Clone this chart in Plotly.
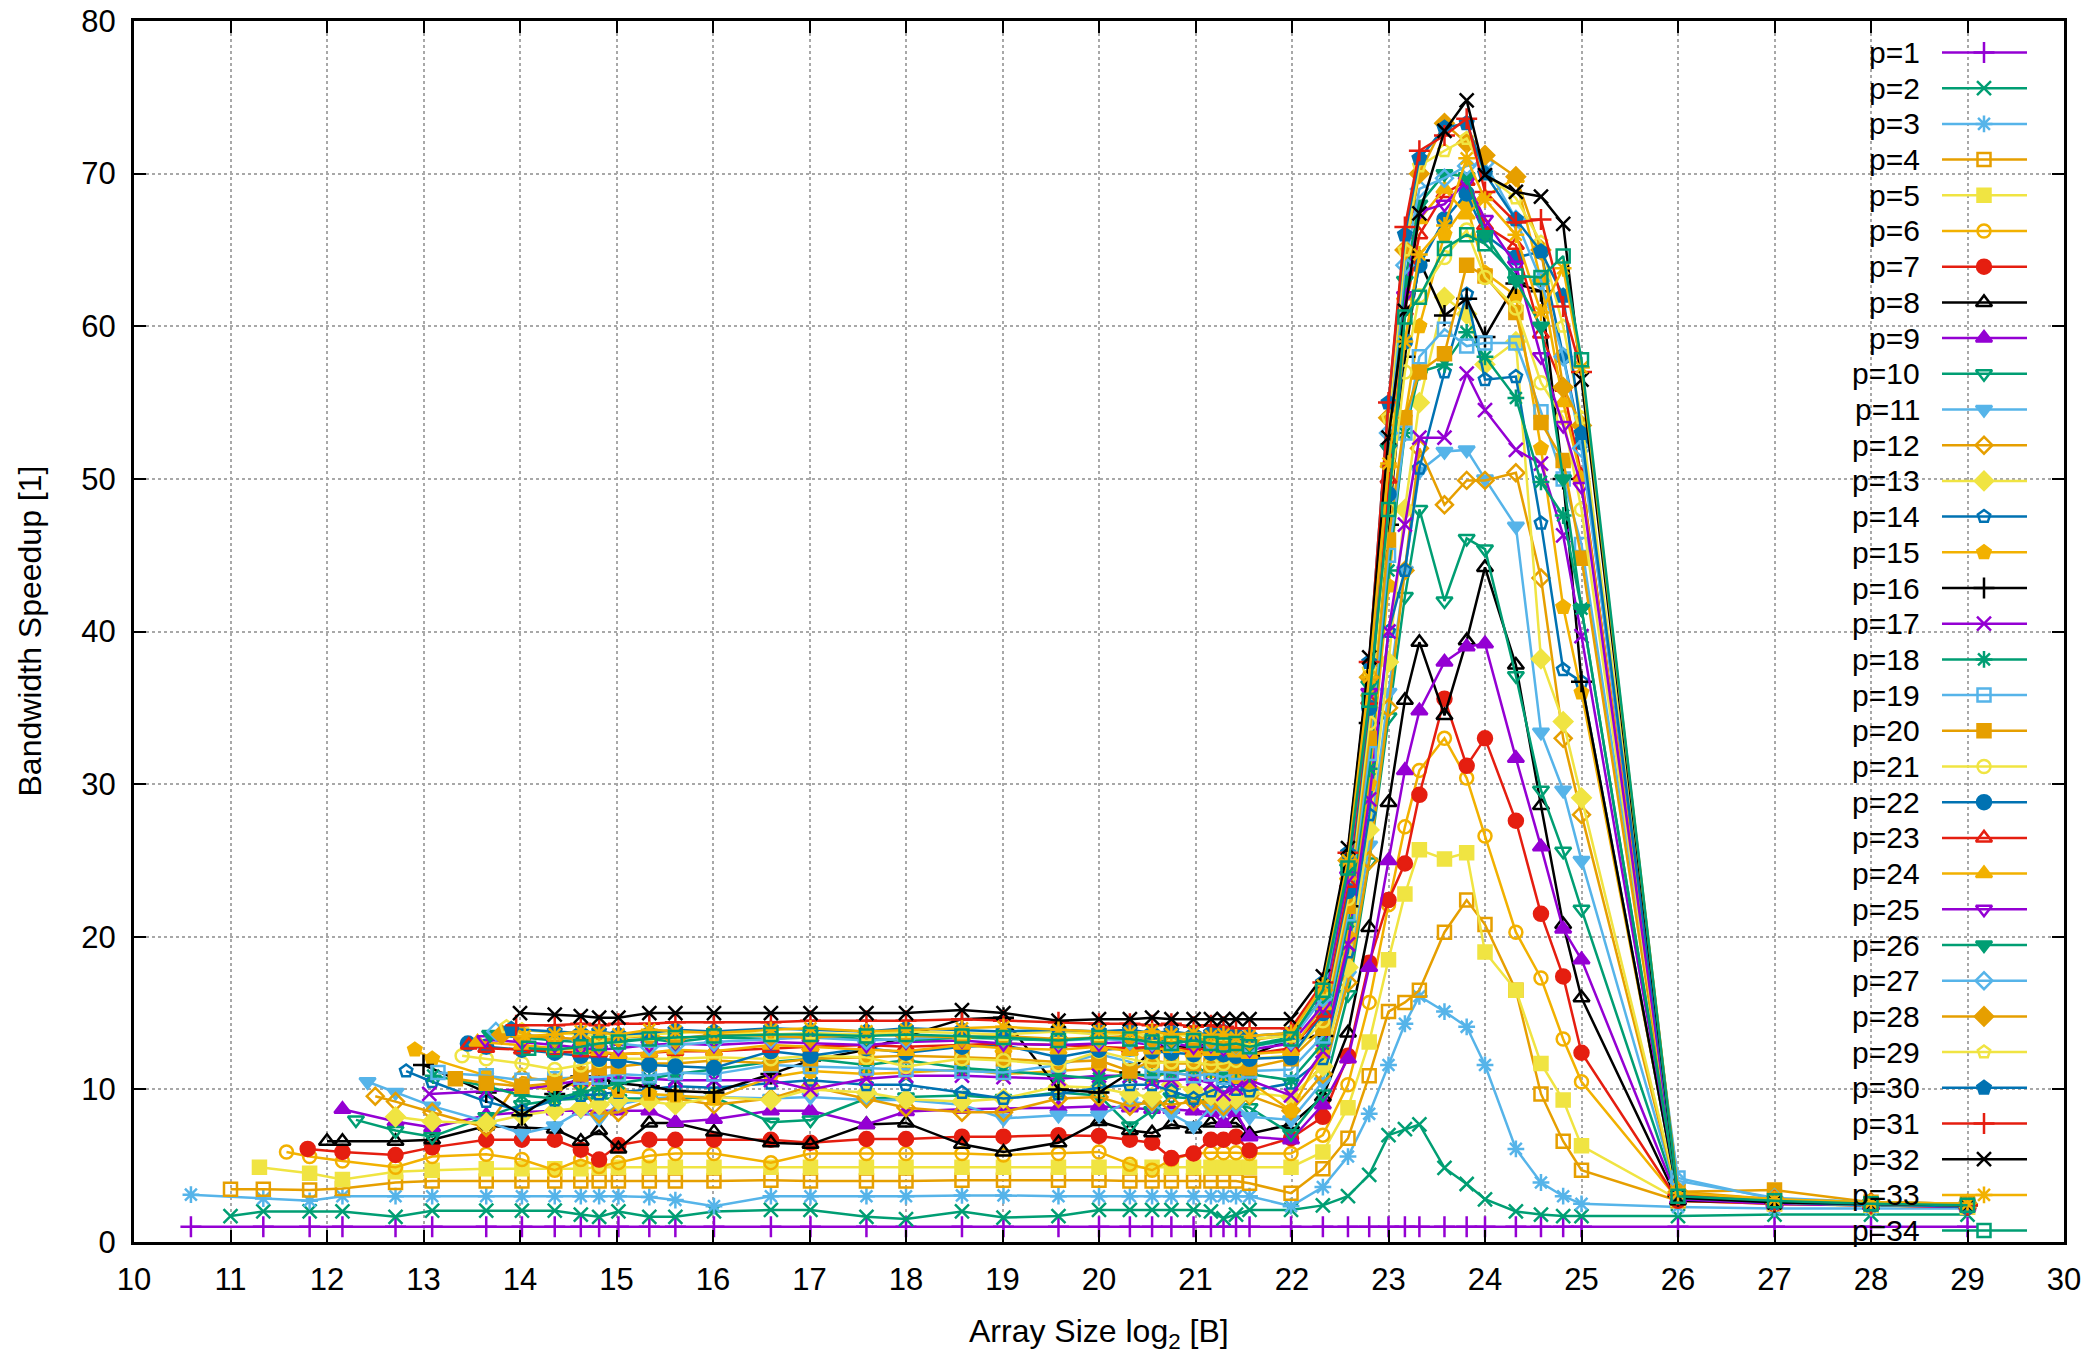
import plotly.graph_objects as go

# ---------------- data ----------------
GRID_X = [10.59, 11.34, 11.82, 12.16, 12.71, 13.09, 13.65, 14.02, 14.36, 14.63, 14.82, 15.02,
          15.34, 15.61, 16.01, 16.60, 17.01, 17.59, 18.00, 18.58, 19.01, 19.58, 20.00, 20.32,
          20.55, 20.75, 20.98, 21.16, 21.29, 21.42, 21.56, 21.99]
PEAK_X = [22.32, 22.58, 22.80, 23.00, 23.17, 23.32, 23.58, 23.81, 24.00, 24.32, 24.58, 24.81, 25.00,
          26, 27, 28, 29]

labels = ["p=%d" % k for k in range(1, 35)]

start_x = [10.59, 11.0, 10.59, 11.0, 11.3, 11.58, 11.8, 12.0, 12.16, 12.3, 12.42, 12.5, 12.71, 12.82,
           12.91, 13.0, 13.06, 13.1, 13.15, 13.33, 13.4, 13.46, 13.47, 13.56, 13.64, 13.69, 13.75,
           13.81, 13.86, 13.91, 13.96, 14.0, 14.05, 14.09]
start_y = [1.0, 1.7, 3.1, 3.45, 4.9, 5.9, 6.1, 6.6, 8.7, 8.0, 10.5, 9.55, 8.2, 11.2, 12.6, 11.6, 9.7,
           10.9, 11.1, 10.7, 12.2, 13.0, 12.9, 13.1, 13.25, 13.6, 13.8, 13.6, 14.1, 13.95, 14.2, 15.0,
           13.5, 12.7]

early_vals = [
    [1.0, 1.0, 1.0, 1.0, 1.0, 1.0],
    [2.0, 2.0, 2.0, 1.65, 2.05, 2.05],
    [2.85, 2.7, 3.0, 3.0, 3.0, 3.0],
    [3.45, 3.4, 3.5, 3.9, 4.0, 4.0],
    [4.5, 4.1, 4.6, 4.7, 4.8],
    [5.6, 5.3, 4.9, 5.6, 5.75],
    [5.9, 5.7, 6.2, 6.7],
    [6.6, 6.6, 6.7, 7.6],
    [7.9, 7.5, 8.3],
    [7.3, 6.9, 8.2],
    [9.8, 8.9, 7.9],
    [9.2, 8.5, 7.5],
    [7.9, 7.8],
    [10.5, 9.2],
    [12.0, 10.9],
    [9.8], [9.9], [10.2], [10.9], [10.4], [12.0], [12.8], [12.7],
    [], [], [], [], [], [], [], [], [], [], [],
]

plateau_vals = [
    [1.0, 1.0, 1.0, 1.0, 1.0, 1.0, 1.0, 1.0, 1.0, 1.0, 1.0, 1.0, 1.0, 1.0, 1.0, 1.0, 1.0, 1.0, 1.0, 1.0, 1.0, 1.0, 1.0, 1.0, 1.0],
    [2.05, 2.05, 1.8, 1.65, 2.0, 1.65, 1.65, 2.0, 2.1, 2.1, 1.65, 1.5, 2.0, 1.6, 1.7, 2.1, 2.1, 2.1, 2.1, 2.1, 2.0, 1.55, 1.8, 2.1, 2.1],
    [3.0, 3.0, 3.0, 3.0, 3.0, 2.95, 2.75, 2.35, 3.0, 3.0, 3.0, 3.0, 3.05, 3.05, 3.0, 3.0, 3.0, 3.0, 3.0, 3.0, 3.0, 3.0, 3.0, 3.0, 2.35],
    [4.0, 4.0, 4.0, 4.0, 4.0, 4.0, 4.0, 4.0, 4.05, 4.0, 4.0, 4.0, 4.05, 4.05, 4.05, 4.05, 4.0, 4.0, 4.0, 4.0, 4.0, 4.0, 4.0, 3.85, 3.2],
    [4.8, 4.8, 4.8, 4.9, 4.9, 4.9, 4.9, 4.9, 4.9, 4.9, 4.9, 4.9, 4.9, 4.9, 4.9, 4.9, 4.9, 4.9, 4.9, 4.9, 4.9, 4.9, 4.9, 4.9, 4.9],
    [5.4, 4.7, 5.4, 4.95, 5.2, 5.65, 5.8, 5.8, 5.2, 5.8, 5.8, 5.8, 5.8, 5.7, 5.8, 5.9, 5.1, 4.7, 5.4, 5.8, 5.85, 5.85, 5.85, 5.8, 5.8],
    [6.7, 6.7, 6.05, 5.4, 6.35, 6.7, 6.7, 6.7, 6.7, 6.5, 6.75, 6.75, 6.9, 6.9, 7.0, 6.95, 6.7, 6.5, 5.5, 5.8, 6.7, 6.7, 6.9, 6.0, 6.8],
    [7.5, 7.4, 6.6, 7.3, 6.1, 7.8, 7.8, 7.2, 6.5, 6.4, 7.7, 7.8, 6.4, 5.9, 6.5, 7.9, 7.3, 7.15, 7.7, 7.4, 7.8, 7.8, 7.8, 7.1, 7.7],
    [8.5, 8.6, 8.6, 8.6, 8.6, 8.6, 7.85, 8.05, 8.6, 8.6, 7.7, 8.55, 8.7, 8.75, 8.8, 8.9, 8.8, 8.7, 8.7, 8.6, 8.5, 7.8, 8.5, 6.9, 6.7],
    [9.0, 9.3, 9.4, 9.4, 9.4, 9.4, 9.4, 9.5, 7.85, 8.0, 9.4, 9.5, 9.6, 9.4, 9.8, 9.6, 7.6, 8.6, 9.5, 9.4, 9.1, 9.3, 9.0, 8.8, 7.1],
    [7.1, 7.6, 8.6, 8.1, 9.0, 9.4, 9.5, 9.5, 9.4, 9.5, 9.3, 9.3, 9.0, 8.1, 8.3, 8.3, 9.2, 9.0, 8.4, 7.6, 8.8, 8.6, 8.9, 8.2, 8.0],
    [10.8, 10.5, 10.3, 8.4, 8.5, 9.3, 9.4, 9.0, 9.4, 10.2, 9.4, 8.8, 8.5, 8.5, 9.4, 9.5, 8.9, 9.2, 9.0, 9.2, 9.1, 8.9, 9.3, 9.6, 8.6],
    [8.3, 8.6, 8.8, 9.0, 9.3, 9.2, 9.0, 9.5, 9.3, 10.0, 9.8, 9.35, 9.2, 9.4, 10.2, 10.1, 9.7, 9.5, 10.3, 10.0, 9.6, 9.3, 9.4, 9.8, 9.5],
    [8.6, 9.3, 9.6, 9.7, 9.8, 10.0, 10.2, 10.1, 10.4, 10.6, 10.3, 10.3, 9.8, 9.4, 9.7, 10.1, 10.3, 10.3, 9.9, 9.4, 9.9, 10.2, 10.0, 9.9, 10.4],
    [10.2, 10.0, 10.5, 10.3, 9.9, 9.7, 9.6, 9.4, 10.8, 11.2, 11.0, 11.1, 11.3, 11.0, 11.2, 11.4, 11.0, 10.8, 11.1, 10.9, 11.2, 11.0, 10.8, 10.5, 8.6],
    [8.3, 9.7, 10.85, 10.7, 10.4, 10.2, 9.9, 9.8, 11.0, 11.9, 12.6, 13.5, 14.6, 14.7, 10.0, 9.8, 11.1, 12.6, 12.9, 12.7, 12.9, 12.8, 12.5, 12.2, 13.3],
    [10.0, 10.3, 10.6, 10.7, 10.8, 10.7, 10.6, 10.6, 10.6, 10.0, 10.7, 10.9, 10.9, 10.8, 10.7, 10.9, 10.9, 10.5, 10.6, 10.7, 10.4, 9.7, 10.1, 10.6, 9.6],
    [9.6, 9.4, 9.8, 10.1, 10.4, 10.7, 11.0, 11.3, 11.8, 12.0, 11.6, 11.9, 11.4, 11.2, 10.9, 10.7, 11.0, 10.9, 11.1, 11.3, 11.2, 11.0, 11.3, 11.0, 10.6],
    [10.6, 10.7, 10.8, 10.8, 11.0, 10.9, 11.1, 11.0, 11.6, 11.5, 11.4, 11.3, 11.2, 11.1, 11.6, 12.3, 11.8, 11.2, 11.1, 10.9, 11.0, 10.8, 11.1, 11.2, 11.3],
    [10.2, 10.4, 11.0, 11.4, 11.5, 11.7, 11.7, 11.9, 11.7, 12.0, 12.1, 12.2, 12.1, 12.0, 11.8, 11.9, 11.2, 11.9, 11.7, 11.7, 11.6, 11.7, 11.5, 11.4, 12.0],
    [11.7, 11.3, 11.6, 11.9, 12.0, 12.0, 12.0, 12.1, 12.0, 12.2, 12.1, 11.5, 12.0, 11.9, 11.6, 12.5, 12.0, 11.7, 11.8, 11.8, 11.6, 11.7, 11.9, 12.0, 12.2],
    [12.6, 12.4, 12.2, 12.0, 11.9, 11.6, 11.5, 11.4, 12.5, 12.2, 12.7, 12.4, 12.8, 12.9, 12.1, 12.6, 12.7, 12.5, 12.4, 12.3, 12.4, 12.3, 12.2, 12.0, 12.1],
    [12.6, 12.5, 12.4, 12.4, 12.3, 12.4, 12.5, 12.5, 12.7, 12.8, 12.9, 12.8, 12.9, 13.0, 12.9, 12.8, 12.7, 12.8, 12.7, 12.6, 12.7, 12.6, 12.5, 12.3, 12.7],
    [12.9, 12.7, 12.6, 12.5, 12.3, 12.4, 12.6, 12.5, 12.9, 12.8, 12.6, 12.5, 12.9, 12.7, 12.6, 12.8, 12.5, 12.6, 12.7, 12.4, 12.5, 12.6, 12.4, 12.3, 12.5],
    [13.1, 12.9, 12.7, 12.6, 12.7, 12.9, 13.0, 12.9, 13.1, 13.0, 12.9, 13.1, 13.2, 13.0, 12.9, 13.0, 13.1, 12.9, 13.0, 12.8, 12.9, 12.7, 12.9, 12.6, 13.0],
    [13.4, 13.2, 13.1, 13.0, 13.2, 13.3, 13.1, 13.4, 13.3, 13.5, 13.3, 13.2, 13.4, 13.3, 13.2, 13.4, 13.3, 13.2, 13.1, 13.3, 13.2, 13.1, 13.0, 12.9, 13.4],
    [13.6, 13.4, 13.2, 13.1, 13.0, 12.8, 12.9, 13.1, 13.3, 13.4, 13.2, 13.3, 13.5, 13.4, 13.2, 13.3, 13.2, 13.1, 13.0, 13.2, 13.1, 13.0, 12.9, 12.8, 13.2],
    [13.5, 13.4, 13.3, 13.2, 13.4, 13.5, 13.3, 13.6, 13.5, 13.4, 13.6, 13.5, 13.4, 13.5, 13.3, 13.4, 13.5, 13.3, 13.4, 13.2, 13.3, 13.1, 13.0, 13.2, 13.6],
    [13.9, 13.7, 13.6, 13.5, 13.4, 13.6, 13.7, 13.8, 13.6, 13.7, 13.6, 13.8, 13.7, 13.6, 13.8, 13.6, 13.7, 13.5, 13.6, 13.5, 13.4, 13.6, 13.5, 13.3, 13.5],
    [13.9, 13.8, 13.7, 13.8, 13.6, 13.7, 13.9, 13.8, 14.0, 13.9, 13.8, 14.0, 13.9, 13.8, 13.9, 13.8, 13.9, 13.7, 13.8, 13.6, 13.7, 13.8, 13.6, 13.5, 13.7],
    [14.2, 14.2, 14.3, 14.2, 14.3, 14.3, 14.4, 14.4, 14.4, 14.5, 14.5, 14.5, 14.6, 14.5, 14.4, 14.3, 14.3, 14.2, 14.3, 14.1, 14.2, 14.1, 14.0, 14.0, 14.0],
    [15.0, 14.9, 14.8, 14.7, 14.7, 15.0, 15.0, 15.0, 15.0, 15.0, 15.0, 15.0, 15.2, 15.0, 14.5, 14.6, 14.6, 14.7, 14.6, 14.6, 14.6, 14.6, 14.6, 14.6, 14.6],
    [13.5, 13.6, 13.8, 13.7, 13.6, 13.9, 13.8, 13.7, 13.9, 14.0, 13.8, 13.9, 14.0, 14.1, 13.9, 13.8, 13.7, 13.8, 13.6, 13.7, 13.5, 13.6, 13.4, 13.5, 13.7],
    [12.7, 12.6, 12.8, 13.0, 13.1, 13.3, 13.4, 13.5, 13.6, 13.6, 13.5, 13.6, 13.5, 13.4, 13.2, 13.4, 13.3, 13.1, 13.0, 13.2, 13.0, 12.9, 13.0, 12.8, 13.3],
]

peak_vals = [
    [1.0, 1.0, 1.0, 1.0, 1.0, 1.0, 1.0, 1.0, 1.0, 1.0, 1.0, 1.0, 1.0],
    [2.4, 3.0, 4.4, 7.0, 7.4, 7.7, 4.85, 3.8, 2.8, 2.0, 1.8, 1.7, 1.7],
    [3.6, 5.6, 8.4, 11.6, 14.3, 16.1, 15.1, 14.1, 11.6, 6.1, 3.9, 3.0, 2.5],
    [4.8, 6.8, 10.9, 15.1, 15.7, 16.5, 20.3, 22.4, 20.8, 16.5, 9.7, 6.6, 4.7],
    [5.9, 8.8, 13.1, 18.5, 22.8, 25.7, 25.1, 25.5, 19.0, 16.5, 11.7, 9.3, 6.3],
    [7.0, 10.3, 15.7, 22.1, 27.2, 30.9, 33.0, 30.4, 26.6, 20.3, 17.3, 13.3, 10.5],
    [8.2, 12.2, 18.3, 22.4, 24.8, 29.3, 35.6, 31.2, 33.0, 27.6, 21.5, 17.4, 12.4],
    [9.5, 13.7, 20.6, 28.8, 35.5, 39.3, 34.5, 39.4, 44.2, 37.8, 28.6, 20.8, 16.0],
    [9.0, 12.0, 18.0, 25.0, 30.9, 34.8, 38.0, 39.0, 39.2, 31.7, 25.9, 20.5, 18.5],
    [9.7, 16.2, 24.9, 34.4, 42.3, 48.0, 42.0, 46.1, 45.4, 37.1, 29.6, 25.6, 21.8],
    [10.5, 17.5, 26.0, 36.0, 44.0, 50.5, 51.8, 51.9, 50.0, 46.9, 33.4, 29.6, 25.0],
    [11.0, 17.0, 25.0, 35.0, 44.0, 52.0, 48.3, 49.9, 49.9, 50.4, 43.5, 33.0, 28.0],
    [11.5, 18.0, 27.0, 38.0, 48.0, 55.0, 61.9, 60.8, 57.5, 59.0, 38.2, 34.1, 29.1],
    [12.0, 19.0, 28.0, 40.0, 44.0, 50.7, 57.0, 62.1, 56.5, 56.7, 47.1, 37.5, 36.7],
    [12.5, 20.0, 30.0, 43.0, 54.0, 60.0, 66.0, 68.0, 63.5, 62.0, 52.0, 41.6, 36.0],
    [13.5, 22.0, 34.0, 47.0, 58.0, 64.3, 60.7, 61.8, 59.3, 62.8, 62.3, 50.0, 36.7],
    [12.5, 19.5, 29.0, 40.0, 47.0, 52.7, 52.7, 56.9, 54.5, 51.9, 51.0, 46.3, 39.7],
    [13.0, 21.0, 31.0, 44.0, 53.0, 57.0, 57.5, 59.6, 58.0, 55.3, 49.8, 47.6, 41.5],
    [13.5, 21.5, 32.0, 45.0, 53.0, 58.0, 59.8, 58.7, 58.9, 58.9, 54.4, 50.0, 45.7],
    [14.0, 22.0, 33.0, 46.0, 54.0, 57.0, 58.2, 64.0, 63.3, 60.9, 53.7, 51.2, 44.8],
    [14.5, 22.5, 34.0, 48.0, 57.0, 62.0, 64.5, 66.3, 63.2, 61.2, 56.3, 54.0, 48.0],
    [15.0, 23.0, 35.0, 49.0, 59.0, 64.0, 67.0, 68.7, 66.0, 64.5, 64.9, 58.0, 52.4],
    [15.0, 23.5, 35.5, 50.0, 61.0, 66.0, 68.7, 69.5, 66.6, 65.3, 59.5, 56.0, 50.2],
    [15.5, 24.0, 36.0, 51.0, 62.0, 67.0, 69.0, 67.3, 68.5, 69.7, 63.0, 55.0, 50.0],
    [15.5, 24.0, 36.0, 52.0, 62.0, 67.5, 68.0, 69.5, 67.0, 64.0, 58.0, 53.5, 49.5],
    [16.0, 24.5, 36.5, 52.0, 63.0, 68.0, 70.0, 69.8, 66.0, 63.0, 60.0, 50.0, 41.5],
    [16.0, 25.0, 37.0, 53.0, 64.0, 69.0, 69.7, 70.5, 70.7, 67.0, 63.0, 58.0, 52.0],
    [16.5, 25.0, 37.0, 54.0, 65.0, 70.0, 73.3, 72.0, 71.2, 69.8, 65.0, 56.0, 53.5],
    [16.5, 25.5, 37.5, 54.0, 65.0, 70.5, 71.5, 72.3, 70.0, 68.4, 65.5, 60.0, 54.0],
    [17.0, 25.5, 38.0, 55.0, 66.0, 71.0, 73.0, 73.3, 70.0, 67.0, 64.9, 62.0, 53.0],
    [17.0, 25.5, 38.0, 55.0, 66.5, 71.5, 72.5, 73.6, 68.8, 66.8, 67.0, 61.3, 57.0],
    [17.4, 25.8, 38.3, 52.7, 61.0, 67.4, 72.8, 74.8, 69.9, 68.8, 68.5, 66.7, 56.5],
    [16.8, 25.0, 37.0, 51.0, 59.0, 64.7, 66.6, 71.0, 68.3, 66.0, 60.9, 63.8, 57.3],
    [16.5, 24.5, 35.5, 48.0, 60.6, 61.9, 65.1, 66.0, 65.4, 63.3, 63.2, 64.6, 57.8],
]

tail_vals = [
    [1.0, 1.0, 1.0, 1.0], [1.7, 1.8, 1.8, 1.8], [2.3, 2.2, 2.2, 2.2], [2.7, 2.5, 2.4, 2.3],
    [2.8, 2.5, 2.4, 2.3], [2.8, 2.6, 2.4, 2.4], [2.7, 2.5, 2.4, 2.3], [2.7, 2.6, 2.4, 2.4],
    [2.8, 2.5, 2.4, 2.3], [2.9, 2.6, 2.4, 2.4], [3.0, 2.6, 2.5, 2.4], [3.0, 2.7, 2.5, 2.4],
    [3.1, 2.6, 2.4, 2.4], [3.0, 2.6, 2.5, 2.4], [3.2, 2.7, 2.5, 2.4], [3.0, 2.6, 2.5, 2.4],
    [3.1, 2.6, 2.5, 2.4], [3.0, 2.7, 2.5, 2.4], [4.2, 2.8, 2.5, 2.4], [3.3, 3.4, 2.6, 2.5],
    [3.1, 2.7, 2.5, 2.4], [3.0, 2.6, 2.5, 2.3], [3.1, 2.7, 2.5, 2.4], [3.2, 2.8, 2.6, 2.5],
    [3.0, 2.6, 2.5, 2.4], [3.1, 2.7, 2.5, 2.4], [4.0, 2.9, 2.6, 2.5], [3.3, 2.8, 2.6, 2.5],
    [3.1, 2.7, 2.5, 2.4], [3.0, 2.6, 2.4, 2.4], [3.1, 2.7, 2.5, 2.4], [2.9, 2.6, 2.5, 2.4],
    [3.2, 2.8, 2.6, 2.5], [3.0, 2.7, 2.5, 2.4],
]

x_ticks = list(range(10, 31))
y_ticks = list(range(0, 81, 10))

# ---------------- styles ----------------
PURPLE, GREEN, LBLUE, ORANGE = "#9400d3", "#009e73", "#56b4e9", "#e69f00"
YELLOW, BLUE, RED, BLACK, GOLD = "#f0e442", "#0072b2", "#e51e10", "#000000", "#f2b100"
colors = [PURPLE, GREEN, LBLUE, ORANGE, YELLOW, GOLD, RED, BLACK,
          PURPLE, GREEN, LBLUE, ORANGE, YELLOW, BLUE, GOLD, BLACK,
          PURPLE, GREEN, LBLUE, ORANGE, YELLOW, BLUE, RED, GOLD,
          PURPLE, GREEN, LBLUE, ORANGE, YELLOW, BLUE, RED, BLACK,
          GOLD, GREEN]
symbols = ["cross-thin-open", "x-thin-open", "asterisk-open", "square-open", "square",
           "circle-open", "circle", "triangle-up-open", "triangle-up", "triangle-down-open",
           "triangle-down", "diamond-open", "diamond", "pentagon-open", "pentagon"]
sizes = [15, 14, 14, 13, 13, 13, 14, 14, 14, 14, 14, 13, 14, 13, 14]

FONT = "Liberation Sans, Arial, sans-serif"
# page body has an 8px margin: figure is shrunk so the plot lands where the reference has it
OFF = 8
W, H = 2090 - OFF, 1354 - OFF
L, T = 134 - OFF, 21 - OFF
PW, PH = 1930, 1221
R, B = W - L - PW, H - T - PH

def px2paper_x(px):
    return (px - OFF - L) / PW
def py2paper_y(py):
    return (T + PH - (py - OFF)) / PH

fig = go.Figure()

for i in range(34):
    sx = start_x[i]
    xs_pl = [g for g in GRID_X if g > sx + 0.12]
    ys_pl = (early_vals[i] + plateau_vals[i])[-len(xs_pl):]
    xs = [sx] + xs_pl + PEAK_X
    ys = [start_y[i]] + ys_pl + peak_vals[i] + tail_vals[i]
    sym = symbols[i % 15]
    fig.add_trace(go.Scatter(
        x=xs, y=ys, mode="lines+markers", name=labels[i], showlegend=False,
        line=dict(color=colors[i], width=2.5),
        marker=dict(symbol=sym, size=sizes[i % 15], color=colors[i],
                    line=dict(color=colors[i], width=2.5)),
    ))

# ---------------- key (gnuplot style: text, then sample) ----------------
row0, dy = 52.5, 35.7
text_right = px2paper_x(1922)
ln0, ln1, lm = px2paper_x(1942), px2paper_x(2027), px2paper_x(1984)
annotations = []
for i in range(34):
    yy = py2paper_y(row0 + i * dy)
    annotations.append(dict(xref="paper", yref="paper", x=text_right, y=yy, text=labels[i],
                            showarrow=False, xanchor="right", yanchor="middle",
                            font=dict(family=FONT, size=30, color="black")))
    fig.add_trace(go.Scatter(
        x=[ln0, ln1], y=[yy, yy], xaxis="x2", yaxis="y2", mode="lines", showlegend=False,
        hoverinfo="skip", line=dict(color=colors[i], width=2.5)))
    fig.add_trace(go.Scatter(
        x=[lm], y=[yy], xaxis="x2", yaxis="y2", mode="markers", showlegend=False,
        hoverinfo="skip",
        marker=dict(symbol=symbols[i % 15], size=sizes[i % 15], color=colors[i],
                    line=dict(color=colors[i], width=2.5))))

annotations.append(dict(xref="paper", yref="paper", x=0.5, y=py2paper_y(1333),
                        text="Array Size log<sub>2</sub> [B]", showarrow=False,
                        xanchor="center", yanchor="middle",
                        font=dict(family=FONT, size=32, color="black")))
annotations.append(dict(xref="paper", yref="paper", x=px2paper_x(29), y=0.5,
                        text="Bandwidth Speedup [1]", showarrow=False, textangle=-90,
                        xanchor="center", yanchor="middle",
                        font=dict(family=FONT, size=32, color="black")))

axis_common = dict(showline=True, linecolor="black", linewidth=3, mirror="allticks",
                   ticks="inside", ticklen=12, tickwidth=2, tickcolor="black",
                   showgrid=True, gridcolor="#a8a8a8", griddash="dot", gridwidth=1.5,
                   zeroline=False, automargin=False, ticklabeloverflow="allow",
                   tickfont=dict(family=FONT, size=31, color="black"))

fig.update_layout(
    width=W, height=H, margin=dict(l=L, r=R, t=T, b=B, pad=0, autoexpand=False),
    paper_bgcolor="white", plot_bgcolor="white",
    xaxis=dict(range=[10, 30], tickmode="array", tickvals=x_ticks,
               ticktext=[str(v) for v in x_ticks], ticklabelstandoff=8, **axis_common),
    yaxis=dict(range=[0, 80], tickmode="array", tickvals=y_ticks,
               ticktext=[str(v) for v in y_ticks], ticklabelstandoff=9, **axis_common),
    xaxis2=dict(range=[0, 1], overlaying="x", visible=False, fixedrange=True),
    yaxis2=dict(range=[0, 1], overlaying="y", visible=False, fixedrange=True),
    annotations=annotations,
    showlegend=False,
)

fig.write_html("out.html")
